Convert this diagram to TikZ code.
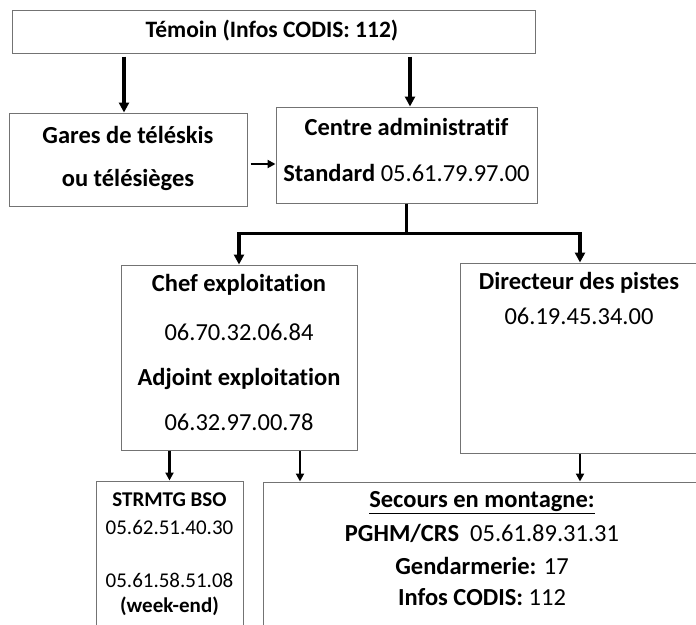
\documentclass[tikz,border=0pt]{standalone}
\usepackage{fontspec}
\setmainfont{Carlito}[Ligatures=NoCommon]
\usetikzlibrary{arrows.meta}
\begin{document}
\begin{tikzpicture}[x=1pt,y=-1pt,
  box/.style={draw=black!55, line width=1pt, inner sep=0pt, rectangle},
  txt/.style={inner sep=0pt, text=black, font=\fontsize{24.5}{28}\selectfont},
  txtb/.style={txt, font=\fontsize{24.5}{28}\selectfont\bfseries},
  stxt/.style={inner sep=0pt, text=black, font=\fontsize{21}{24}\selectfont},
  mtxt/.style={inner sep=0pt, text=black, font=\fontsize{24.5}{28}\selectfont},
  bigarrow/.style={-{Triangle[width=10pt,length=10pt]}, line width=3.4pt},
  smallarrow/.style={-{Triangle[width=8pt,length=8pt]}, line width=2.2pt}]
\useasboundingbox (0,0) rectangle (696,624);
\fill[white] (0,0) rectangle (696,624);

% boxes
\node[box, minimum width=523pt, minimum height=43pt] (temoin) at (273.5,31.5) {};
\node[box, minimum width=238pt, minimum height=93pt] (gares) at (128,159.5) {};
\node[box, minimum width=261pt, minimum height=96pt] (centre) at (406.5,155) {};
\node[box, minimum width=236pt, minimum height=185pt] (chef) at (239,357.5) {};
\node[box, minimum width=240pt, minimum height=190pt] (direct) at (580,358) {};
\node[box, minimum width=147pt, minimum height=159pt] (strmtg) at (169.5,560.5) {};
\node[box, minimum width=447pt, minimum height=158pt] (secours) at (486.5,561) {};

% texts
\node[inner sep=0pt, text=black, font=\fontsize{23.5}{27}\selectfont\bfseries] (ttem) at (272,31) {Témoin (Infos CODIS: 112)};

\node[txtb] (tg1) at (128,135) {Gares de téléskis};
\node[txtb] (tg2) at (128,180) {ou télésièges};

\node[txtb] (tc1) at (406.5,127) {Centre administratif};
\node[txt] (tc2) at (406.5,173) {\textbf{Standard} 05.61.79.97.00};

\node[txtb] (th1) at (239,285) {Chef exploitation};
\node[txt] (th2) at (239,332) {06.70.32.06.84};
\node[txtb] (th3) at (239,379) {Adjoint exploitation};
\node[txt] (th4) at (239,422) {06.32.97.00.78};

\node[txtb] (td1) at (579,283) {Directeur des pistes};
\node[txt] (td2) at (579,316) {06.19.45.34.00};

\node[stxt, font=\fontsize{21}{24}\selectfont\bfseries] (ts1) at (169.5,500) {STRMTG BSO};
\node[stxt] (ts2) at (169.5,527) {05.62.51.40.30};
\node[stxt] (ts3) at (169.5,580) {05.61.58.51.08};
\node[stxt, font=\fontsize{21}{24}\selectfont\bfseries] (ts4) at (169.5,606) {(week-end)};

\node[mtxt] (tm1) at (482,503) {\textbf{\underline{Secours en montagne:}}};
\node[mtxt] (tm2) at (482,533) {\textbf{PGHM/CRS}\ \ 05.61.89.31.31};
\node[mtxt] (tm3) at (482,566) {\textbf{Gendarmerie:} 17};
\node[mtxt] (tm4) at (482,597) {\textbf{Infos CODIS:} 112};

% connectors
\coordinate (xa) at (124,0);
\coordinate (xb) at (410,0);
\coordinate (xc) at (300,0);
\coordinate (yg) at (0,164);
\draw[bigarrow, shorten <=3pt] (temoin.south -| xa) -- (gares.north -| xa);
\draw[bigarrow, shorten <=3pt] (temoin.south -| xb) -- (centre.north -| xb);
\draw[smallarrow, line width=2.8pt, shorten <=3pt] (gares.east |- yg) -- (centre.west |- yg);
\coordinate (split) at ([yshift=-30pt]centre.south);
\draw[line width=3.4pt] (centre.south) -- (split);
\draw[{Triangle[width=10pt,length=10pt]}-{Triangle[width=10pt,length=10pt]}, line width=3.4pt]
  (chef.north) |- (split) -| (direct.north);
\draw[smallarrow] (chef.south -| strmtg.north) -- (strmtg.north);
\draw[smallarrow] (chef.south -| xc) -- (secours.north -| xc);
\draw[smallarrow] (direct.south) -- (direct.south |- secours.north);
\end{tikzpicture}
\end{document}
